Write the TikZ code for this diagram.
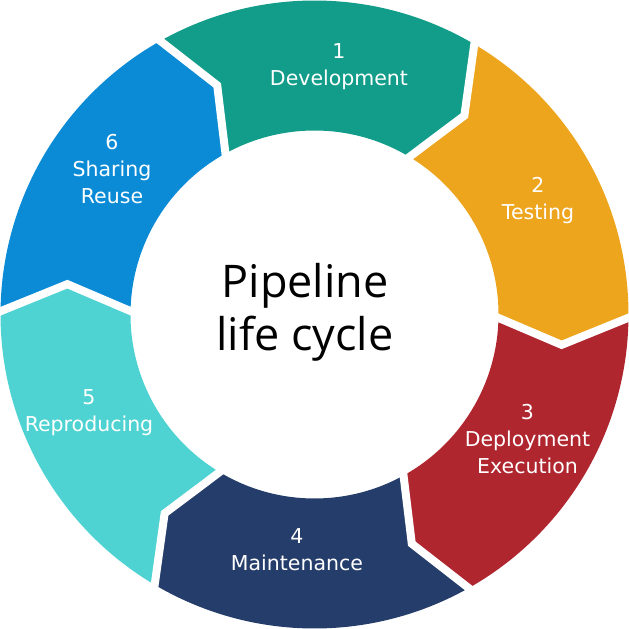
\documentclass[tikz,border=0pt]{standalone}
\usepackage{fontspec}
\setmainfont{DejaVu Sans}
\newfontfamily\centerfont{Open Sans}
\definecolor{cA}{RGB}{17,157,137}
\definecolor{cB}{RGB}{237,165,30}
\definecolor{cC}{RGB}{176,38,47}
\definecolor{cD}{RGB}{37,61,106}
\definecolor{cE}{RGB}{78,210,210}
\definecolor{cF}{RGB}{11,139,214}
\tikzset{
  seglabel/.style={text=white, align=center, font=\fontsize{20.5}{27}\selectfont, inner sep=0pt},
  gapline/.style={white, line width=8, line join=miter, line cap=butt},
}
\newcommand{\ringseg}[2]{%
  \pgfmathsetmacro{\aS}{#1}\pgfmathsetmacro{\aE}{#1-60}%
  \pgfmathsetmacro{\tE}{#1-67}\pgfmathsetmacro{\tS}{#1-7}%
  \fill[#2] (\aS:314) arc[start angle=\aS, end angle=\aE, radius=314]
    -- (\tE:249) -- (\aE:184) arc[start angle=\aE, end angle=\aS, radius=184]
    -- (\tS:249) -- cycle;}
\begin{document}
\begin{tikzpicture}[x=1pt,y=1pt]
\useasboundingbox (-314.5,-314.5) rectangle (314.5,314.5);
\ringseg{120}{cA}
\ringseg{60}{cB}
\ringseg{0}{cC}
\ringseg{-60}{cD}
\ringseg{-120}{cE}
\ringseg{-180}{cF}
\foreach \a in {120,60,0,-60,-120,-180}{
  \draw[gapline] (\a:322) -- (\a-7:249) -- (\a:176);
}
\node[seglabel] (l1) at (24.5,248) {1\\Development};
\node[seglabel] (l2) at (223.5,113.5) {2\\Testing};
\node[seglabel] (l3) at (213,-124.5) {3\\Deployment\\Execution};
\node[seglabel] (l4) at (-17.5,-235.5) {4\\Maintenance};
\node[seglabel] (l5) at (-225.5,-98) {5\\Reproducing};
\node[seglabel] (l6) at (-202.5,145) {6\\Sharing\\Reuse};
\node[align=center, inner sep=0pt, font=\centerfont\fontsize{45}{53}\selectfont] (ctr) at (-9.5,2.5) {Pipeline\\life cycle};
\end{tikzpicture}
\end{document}
